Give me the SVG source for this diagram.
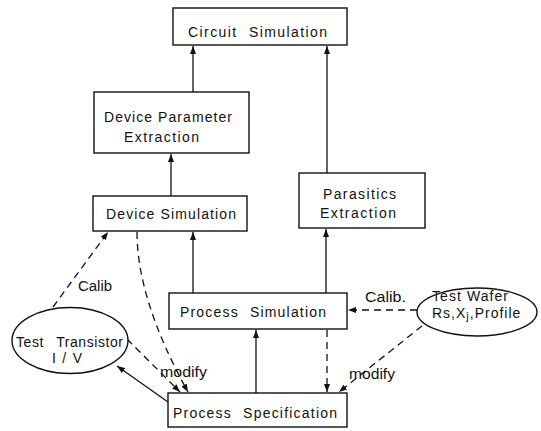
<svg xmlns="http://www.w3.org/2000/svg" width="541" height="431" viewBox="0 0 541 431">
  <style>
    .box { fill: #fff; stroke: #111; stroke-width: 1.4; }
    .oval { fill: #fff; stroke: #111; stroke-width: 1.4; }
    .lbl { font-family: "Liberation Sans", "DejaVu Sans", sans-serif; font-size: 14px; fill: #111; }
    .edge { fill: none; stroke: #111; stroke-width: 1.3; marker-end: url(#head); }
    .dash { stroke-dasharray: 7 5; }
  </style>
  <defs>
    <marker id="head" viewBox="0 0 8 6" refX="8" refY="3" markerWidth="8" markerHeight="6" markerUnits="userSpaceOnUse" orient="auto">
      <path d="M0,0 L8,3 L0,6 z" fill="#111"/>
    </marker>
  </defs>
  <rect width="541" height="431" fill="#fff"/>

  <!-- connectors -->
  <g id="connectors">
    <path class="edge" d="M193,92 L193,46"/>
    <path class="edge" d="M171,196 L171,154"/>
    <path class="edge" d="M327,173 L327,46"/>
    <path class="edge" d="M193,293 L193,232"/>
    <path class="edge" d="M326,293 L326,229"/>
    <path class="edge" d="M256,393 L256,330"/>
    <path class="edge dash" d="M327,330 L327,392"/>
    <path class="edge dash" d="M417,310 L348,310"/>
    <path class="edge dash" d="M422,326 L339,392"/>
    <path class="edge dash" d="M53,307 L108,232"/>
    <path class="edge dash" d="M137,232 Q137,300 188,392"/>
    <path class="edge dash" d="M127,339 L180,392"/>
    <path class="edge" d="M168,402 L117,366"/>
    <text class="lbl" x="78" y="291" textLength="34" lengthAdjust="spacingAndGlyphs">Calib</text>
    <text class="lbl" x="160" y="377" textLength="47" lengthAdjust="spacingAndGlyphs">modify</text>
    <text class="lbl" x="365" y="302" textLength="41" lengthAdjust="spacingAndGlyphs">Calib.</text>
    <text class="lbl" x="349" y="379" textLength="46" lengthAdjust="spacingAndGlyphs">modify</text>
  </g>

  <g id="circuit-simulation">
    <rect class="box" x="173" y="8" width="174" height="37"/>
    <text class="lbl" x="188" y="37" textLength="139" lengthAdjust="spacing" word-spacing="6">Circuit Simulation</text>
  </g>

  <g id="device-parameter-extraction">
    <rect class="box" x="94" y="92" width="155" height="61"/>
    <text class="lbl" x="104" y="122" textLength="128" lengthAdjust="spacing">Device Parameter</text>
    <text class="lbl" x="124" y="142" textLength="75" lengthAdjust="spacing">Extraction</text>
  </g>

  <g id="device-simulation">
    <rect class="box" x="93" y="196" width="154" height="35"/>
    <text class="lbl" x="106" y="219" textLength="130" lengthAdjust="spacing">Device Simulation</text>
  </g>

  <g id="parasitics-extraction">
    <rect class="box" x="299" y="173" width="126" height="55"/>
    <text class="lbl" x="323" y="199" textLength="73" lengthAdjust="spacing">Parasitics</text>
    <text class="lbl" x="320" y="218" textLength="76" lengthAdjust="spacing">Extraction</text>
  </g>

  <g id="process-simulation">
    <rect class="box" x="169" y="293" width="178" height="36"/>
    <text class="lbl" x="180" y="317" textLength="146" lengthAdjust="spacing" word-spacing="6">Process Simulation</text>
  </g>

  <g id="process-specification">
    <rect class="box" x="168" y="393" width="179" height="34"/>
    <text class="lbl" x="173" y="418" textLength="164" lengthAdjust="spacing" word-spacing="6">Process Specification</text>
  </g>

  <g id="test-transistor">
    <ellipse class="oval" cx="70" cy="340.5" rx="58" ry="33"/>
    <text class="lbl" x="16" y="347" textLength="107" lengthAdjust="spacing" word-spacing="8">Test Transistor</text>
    <text class="lbl" x="52" y="363" textLength="30" lengthAdjust="spacing">I / V</text>
  </g>

  <g id="test-wafer">
    <ellipse class="oval" cx="477" cy="312" rx="60" ry="24"/>
    <text class="lbl" x="432" y="301" textLength="76" lengthAdjust="spacing">Test Wafer</text>
    <text class="lbl" x="432" y="318" letter-spacing="1">Rs,X<tspan font-size="11" dy="2">j</tspan><tspan dy="-2">,Profile</tspan></text>
  </g>
</svg>
